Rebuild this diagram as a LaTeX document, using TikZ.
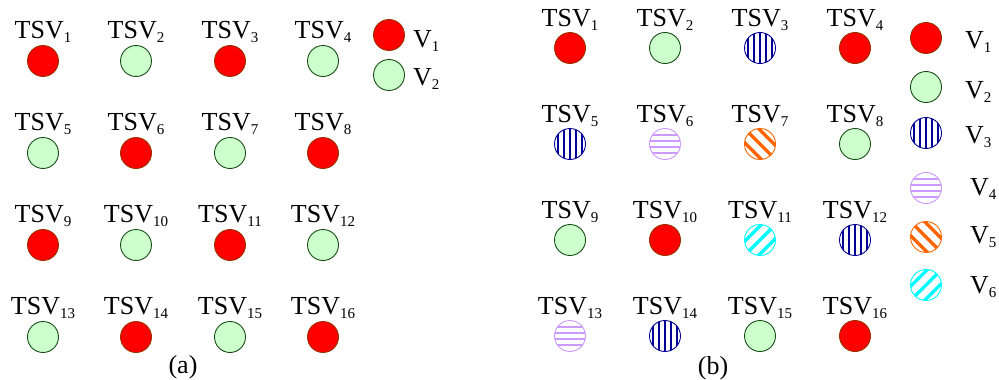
\documentclass[tikz,border=0pt]{standalone}
\usepackage{fontspec}
\setmainfont{Liberation Serif}
\usetikzlibrary{positioning}
\definecolor{vred}{HTML}{FF0000}
\definecolor{vredline}{HTML}{993300}
\definecolor{vgreen}{HTML}{CCFFCC}
\definecolor{vgreenline}{HTML}{1A4D1A}
\definecolor{vnavy}{HTML}{000099}
\definecolor{vlilac}{HTML}{CC99FF}
\definecolor{vorange}{HTML}{FF6600}
\definecolor{vcyan}{HTML}{00FFFF}
\newcommand{\tsvsub}[1]{\raisebox{-4pt}{\fontsize{15}{17}\selectfont #1}}
\tikzset{
  via/.style={circle, minimum size=31pt, inner sep=0pt, line width=0.9pt},
  vone/.style={via, fill=vred, draw=vredline},
  vtwo/.style={via, fill=vgreen, draw=vgreenline},
  vthree/.style={via, draw=vnavy, fill=white, path picture={
      \foreach \off in {-12,-6,...,12}
        \draw[vnavy, line width=1.3pt, shift={(path picture bounding box.center)}] (\off,-20) -- (\off,20);}},
  vfour/.style={via, draw=vlilac, fill=white, path picture={
      \foreach \off in {-9,-3,...,9}
        \draw[vlilac, line width=1.8pt, shift={(path picture bounding box.center)}] (-20,\off) -- (20,\off);}},
  vfive/.style={via, draw=vorange, fill=white, path picture={
      \foreach \off in {-7,0,7}
        \draw[vorange, line width=3.5pt, shift={(path picture bounding box.center)}] (\off-20,-\off-20) -- (\off+20,-\off+20);}},
  vsix/.style={via, draw=vcyan, fill=white, path picture={
      \foreach \off in {-7,0,7}
        \draw[vcyan, line width=3.5pt, shift={(path picture bounding box.center)}] (\off-20,\off+20) -- (\off+20,\off-20);}},
  tsvtext/.style={font=\fontsize{26}{29}\selectfont, inner sep=0pt, anchor=base},
  keytext/.style={font=\fontsize{26}{29}\selectfont, inner sep=0pt, anchor=base west},
}

\begin{document}
\begin{tikzpicture}[x=1pt, y=-1pt]
  \useasboundingbox (0,0) rectangle (999,380);

  % Panel (a)
  \foreach \n/\x/\y/\kind in {1/43/61/vone, 2/136/61/vtwo, 3/230/61/vone, 4/323/61/vtwo,
      5/43/153/vtwo, 6/136/153/vone, 7/230/153/vtwo, 8/323/153/vone,
      9/43/245/vone, 10/136/245/vtwo, 11/230/245/vone, 12/323/245/vtwo,
      13/43/337/vtwo, 14/136/337/vone, 15/230/337/vtwo, 16/323/337/vone} {
    \node[\kind] (a\n) at (\x,\y) {};
    \node[tsvtext] (ta\n) at (\x,\y-23) {TSV\tsvsub{\n}};
  }
  \node[vone] (ka1) at (389,35) {};
  \node[vtwo] (ka2) at (389,75) {};
  \node[keytext] (la1) at (413,47) {V\tsvsub{1}};
  \node[keytext] (la2) at (413,85) {V\tsvsub{2}};
  \node[tsvtext] (capa) at (183,373) {(a)};

  % Panel (b)
  \foreach \n/\x/\y/\kind in {1/570/48/vone, 2/665/48/vtwo, 3/760/48/vthree, 4/855/48/vone,
      5/570/144/vthree, 6/665/144/vfour, 7/760/144/vfive, 8/855/144/vtwo,
      9/570/240/vtwo, 10/665/240/vone, 11/760/240/vsix, 12/855/240/vthree,
      13/570/336/vfour, 14/665/336/vthree, 15/760/336/vtwo, 16/855/336/vone} {
    \node[\kind] (b\n) at (\x,\y) {};
    \node[tsvtext] (tb\n) at (\x,\y-22) {TSV\tsvsub{\n}};
  }
  \node[vone]   (kb1) at (926,38) {};
  \node[vtwo]   (kb2) at (926,87) {};
  \node[vthree] (kb3) at (926,133) {};
  \node[vfour]  (kb4) at (926,188) {};
  \node[vfive]  (kb5) at (926,237) {};
  \node[vsix]   (kb6) at (926,285) {};
  \node[keytext] (lb1) at (965,48) {V\tsvsub{1}};
  \node[keytext] (lb2) at (965,98) {V\tsvsub{2}};
  \node[keytext] (lb3) at (965,143) {V\tsvsub{3}};
  \node[keytext] (lb4) at (970,195) {V\tsvsub{4}};
  \node[keytext] (lb5) at (970,243) {V\tsvsub{5}};
  \node[keytext] (lb6) at (970,293) {V\tsvsub{6}};
  \node[tsvtext] (capb) at (713,374) {(b)};
\end{tikzpicture}
\end{document}
